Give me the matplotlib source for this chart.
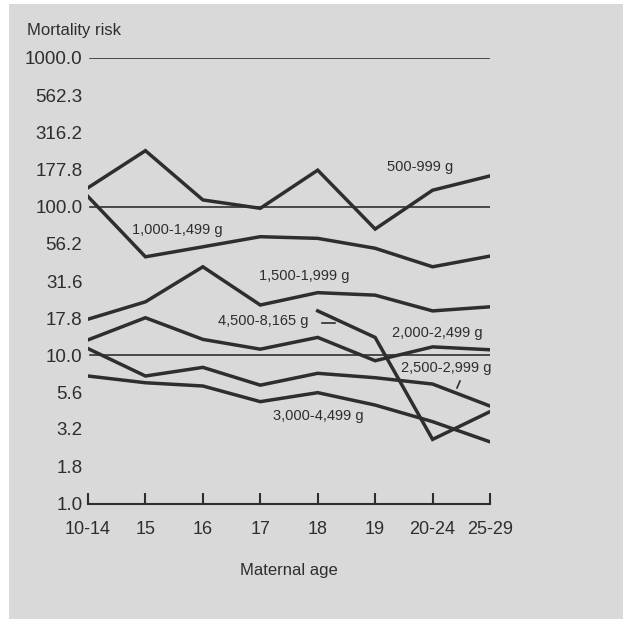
import matplotlib.pyplot as plt
from matplotlib.patches import Rectangle

plt.rcParams["font.family"] = ["Liberation Sans", "DejaVu Sans"]

# Edades maternas (categorías del eje x)
edades = ["10-14", "15", "16", "17", "18", "19", "20-24", "25-29"]

# Riesgo de mortalidad por grupo de peso al nacer
peso_500_999 = [134, 238, 111, 97.5, 176, 70.7, 129, 161]
peso_1000_1499 = [117, 46, 53.7, 62.8, 61.2, 52.5, 39.4, 46.5]
peso_1500_1999 = [17.5, 22.9, 39.4, 21.8, 26.4, 25.4, 19.9, 21.2]
peso_2000_2499 = [12.7, 17.9, 12.8, 11.0, 13.2, 9.2, 11.4, 10.9]
peso_2500_2999 = [11.1, 7.26, 8.3, 6.3, 7.57, 7.07, 6.41, 4.56]
peso_3000_4499 = [7.26, 6.54, 6.22, 4.88, 5.61, 4.63, 3.58, 2.62]
peso_4500_8165 = [None, None, None, None, 19.9, 13.2, 2.72, 4.18]

ticks_y = [1.0, 1.8, 3.2, 5.6, 10.0, 17.8, 31.6, 56.2, 100.0, 177.8, 316.2, 562.3, 1000.0]
lineas_ref = [10, 100, 1000]

W, H = 630, 619
fig = plt.figure(figsize=(W / 100, H / 100), dpi=100)
fig.patch.set_facecolor("white")
fondo = "#d9d9d9"
fig.patches.append(Rectangle((9 / W, 0), (623 - 9) / W, (H - 4) / H,
                             transform=fig.transFigure, facecolor=fondo,
                             edgecolor="none", zorder=-10))

ax = fig.add_axes([88 / W, (H - 504) / H, 402 / W, 446 / H])
ax.set_zorder(5)
ax.set_facecolor("none")
ax.set_yscale("log")
ax.set_xlim(0, 7)
ax.set_ylim(1, 1000)

gris = "#2e2e2e"
x = list(range(len(edades)))
for serie in [peso_500_999, peso_1000_1499, peso_1500_1999, peso_2000_2499,
              peso_2500_2999, peso_3000_4499]:
    ax.plot(x, serie, color=gris, lw=2.5, solid_joinstyle="miter", zorder=3)
xs = [i for i, v in zip(x, peso_4500_8165) if v is not None]
vs = [v for v in peso_4500_8165 if v is not None]
ax.plot(xs, vs, color=gris, lw=2.5, solid_joinstyle="miter", zorder=3)

for v in lineas_ref:
    ax.axhline(v, xmin=0.005, xmax=1, color="#222222", lw=1.1, zorder=2)

for s in ["top", "right", "left"]:
    ax.spines[s].set_visible(False)
ax.spines["bottom"].set_color(gris)
ax.spines["bottom"].set_linewidth(1.5)

ax.set_xticks(x)
ax.set_xticklabels(edades, fontsize=13, color=gris)
ax.tick_params(axis="x", direction="in", length=8, width=1.5, color=gris, pad=12)

ax.set_yticks(ticks_y)
ax.set_yticklabels([f"{t:.1f}" for t in ticks_y], fontsize=13.5, color=gris)
ax.yaxis.set_minor_locator(plt.NullLocator())
ax.tick_params(axis="y", length=0, pad=4)

ax.set_xlabel("Maternal age", fontsize=12, color=gris, labelpad=18)

fig.text(27 / W, 1 - 30 / H, "Mortality risk", fontsize=12, color=gris,
         va="center", ha="left")

# Etiquetas de las series (en píxeles de la figura)
etiquetas = [
    ("500-999 g", 387, 167),
    ("1,000-1,499 g", 132, 230),
    ("1,500-1,999 g", 259, 276),
    ("4,500-8,165 g", 218, 321),
    ("2,000-2,499 g", 392, 333),
    ("2,500-2,999 g", 401, 368),
    ("3,000-4,499 g", 273, 416),
]
for texto, px, py in etiquetas:
    fig.text(px / W, 1 - py / H, texto, fontsize=10.5, color=gris,
             va="center", ha="left")

# Pequeñas líneas guía
fig.add_artist(plt.Line2D([322 / W, 335 / W], [1 - 323 / H, 1 - 323 / H],
                          color=gris, lw=1.2))
fig.add_artist(plt.Line2D([457 / W, 460 / W], [1 - 388 / H, 1 - 381 / H],
                          color=gris, lw=1.2))

fig.savefig("out.png", dpi=100, facecolor=fig.get_facecolor())
